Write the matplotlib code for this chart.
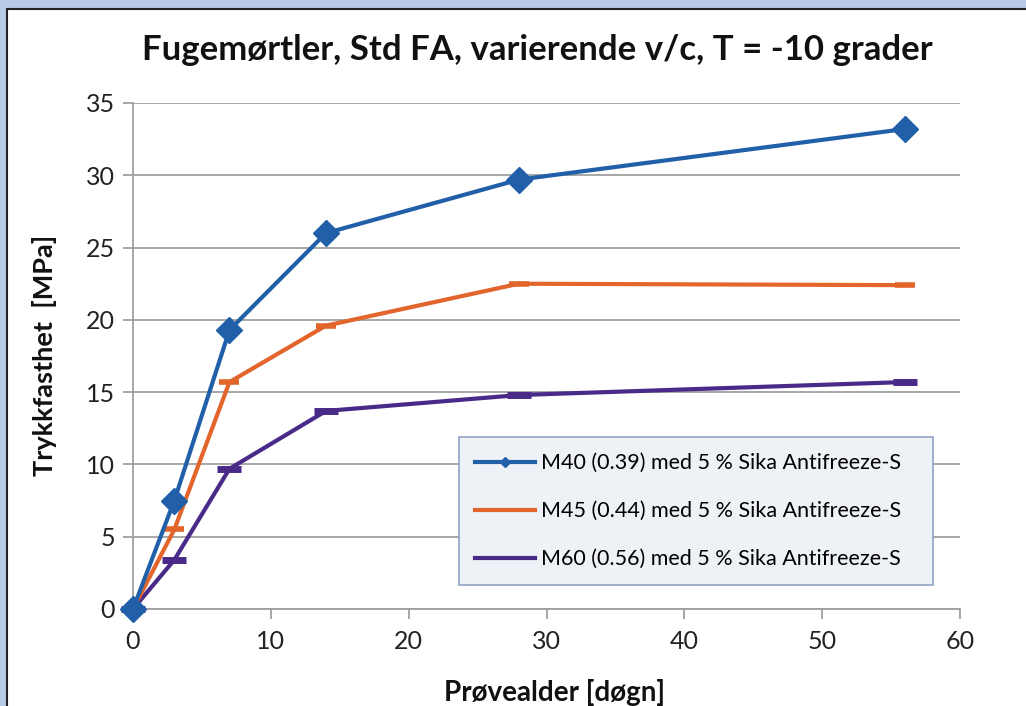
import matplotlib
matplotlib.use("Agg")
import matplotlib.pyplot as plt
from matplotlib.patches import Rectangle

days = [0, 3, 7, 14, 28, 56]
m40 = [0, 7.5, 19.3, 26.0, 29.7, 33.2]
m45 = [0, 5.5, 15.7, 19.6, 22.5, 22.4]
m60 = [0, 3.4, 9.7, 13.7, 14.8, 15.7]
labels = ["M40 (0.39) med 5 % Sika Antifreeze-S",
          "M45 (0.44) med 5 % Sika Antifreeze-S",
          "M60 (0.56) med 5 % Sika Antifreeze-S"]
title = "Fugemørtler, Std FA, varierende v/c, T = -10 grader"
xlabel = "Prøvealder [døgn]"
ylabel = "Trykkfasthet  [MPa]"
xticks = [0, 10, 20, 30, 40, 50, 60]
yticks = [0, 5, 10, 15, 20, 25, 30, 35]

plt.rcParams['font.family'] = ['Lato', 'DejaVu Sans']

fig = plt.figure(figsize=(10.26, 7.06), dpi=100)
fig.patch.set_facecolor('#b8cbe6')
W, H = 1026, 706

bg = fig.add_axes([0, 0, 1, 1], zorder=0)
bg.set_axis_off()
bg.set_xlim(0, 1)
bg.set_ylim(0, 1)
bg.add_patch(Rectangle((7 / W, -0.1), 1.2, 1.1 - 9 / H, facecolor='white',
                       edgecolor='#222222', linewidth=1.5))

ax = fig.add_axes([133 / W, 1 - 609 / H, 827 / W, 506 / H], zorder=2)
ax.set_facecolor('none')

blue = '#2160a8'
orange = '#e2652b'
purple = '#4a2a88'

ax.plot(days, m40, color=blue, lw=3, marker='D', markersize=13, label=labels[0],
        clip_on=False, zorder=5)
ax.plot(days, m45, color=orange, lw=3, marker='_', markersize=14, markeredgewidth=4,
        label=labels[1], clip_on=False, zorder=4)
ax.plot(days, m60, color=purple, lw=3, marker='_', markersize=17, markeredgewidth=5,
        label=labels[2], clip_on=False, zorder=3)

ax.set_xlim(0, 60)
ax.set_ylim(0, 35)
ax.set_xticks(xticks)
ax.set_yticks(yticks)
ax.grid(axis='y', color='#a0a0a0', lw=1.3)
ax.set_axisbelow(True)
for s in ['top', 'right']:
    ax.spines[s].set_visible(False)
for s in ['left', 'bottom']:
    ax.spines[s].set_color('#a0a0a0')
    ax.spines[s].set_linewidth(1.3)
ax.tick_params(axis='both', direction='out', length=7, width=1.3, color='#a0a0a0',
               labelsize=18, labelcolor='#222222')
ax.tick_params(axis='y', pad=6)
ax.tick_params(axis='x', pad=8)

fig.text(537 / W, 1 - 50 / H, title, ha='center', va='center', fontsize=25,
         fontweight='bold', color='#111111', zorder=3)
fig.text(45 / W, 1 - 355 / H, ylabel, ha='center', va='center', rotation=90,
         fontsize=19.5, fontweight='bold', color='#111111', zorder=3)
fig.text(555 / W, 1 - 692 / H, xlabel, ha='center', va='center', fontsize=20,
         fontweight='bold', color='#111111', zorder=3)

leg = ax.legend(loc='lower left', bbox_to_anchor=(0.394, 0.047, 0.573, 0.295),
                mode='expand', borderaxespad=0, fontsize=15.5, markerscale=0.4,
                handlelength=2.8, handletextpad=0.25, labelspacing=1.3,
                fancybox=False, frameon=True, borderpad=0.75)
for h in leg.legend_handles[1:]:
    h.set_markersize(0)
leg.get_frame().set_facecolor('#eef1f6')
leg.get_frame().set_edgecolor('#8ea3c4')
leg.get_frame().set_linewidth(1.2)
leg.get_frame().set_alpha(1)
leg.set_zorder(10)

fig.savefig('out.png', dpi=100, facecolor=fig.get_facecolor())
